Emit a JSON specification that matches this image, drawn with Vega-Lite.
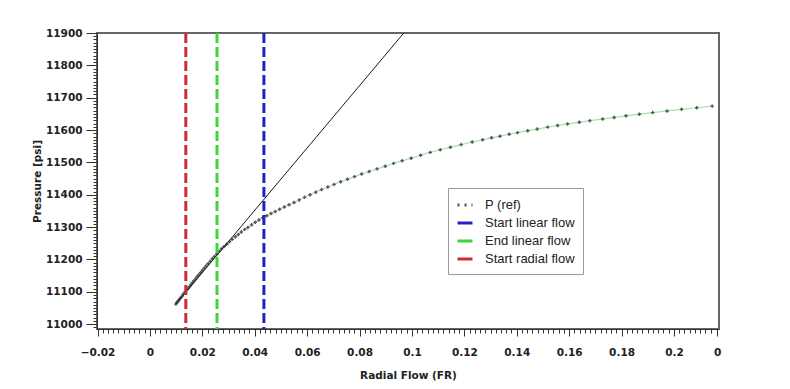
{
  "$schema": "https://vega.github.io/schema/vega-lite/v6.json",
  "width": 622,
  "height": 296,
  "autosize": {"type": "none"},
  "padding": {"left": 97, "top": 33, "right": 71, "bottom": 60},
  "background": "white",
  "config": {
    "view": {"stroke": "#666666", "strokeWidth": 2},
    "axis": {"grid": false, "domainColor": "#333333", "tickColor": "#333333", "labelColor": "#222222", "titleColor": "#222222", "labelFont": "DejaVu Sans", "titleFont": "DejaVu Sans", "labelFontWeight": "bold", "titleFontWeight": "bold", "labelFontSize": 10.5, "titleFontSize": 10.5}
  },
  "datasets": {
    "pref": [
      {"flow": 0.0099, "pressure": 11062, "series": "P (ref)"},
      {"flow": 0.0103, "pressure": 11067, "series": "P (ref)"},
      {"flow": 0.0106, "pressure": 11070, "series": "P (ref)"},
      {"flow": 0.0110, "pressure": 11074, "series": "P (ref)"},
      {"flow": 0.0114, "pressure": 11079, "series": "P (ref)"},
      {"flow": 0.0118, "pressure": 11082, "series": "P (ref)"},
      {"flow": 0.0122, "pressure": 11086, "series": "P (ref)"},
      {"flow": 0.0127, "pressure": 11092, "series": "P (ref)"},
      {"flow": 0.0131, "pressure": 11096, "series": "P (ref)"},
      {"flow": 0.0136, "pressure": 11101, "series": "P (ref)"},
      {"flow": 0.0141, "pressure": 11107, "series": "P (ref)"},
      {"flow": 0.0146, "pressure": 11111, "series": "P (ref)"},
      {"flow": 0.0151, "pressure": 11116, "series": "P (ref)"},
      {"flow": 0.0156, "pressure": 11122, "series": "P (ref)"},
      {"flow": 0.0162, "pressure": 11128, "series": "P (ref)"},
      {"flow": 0.0168, "pressure": 11134, "series": "P (ref)"},
      {"flow": 0.0174, "pressure": 11140, "series": "P (ref)"},
      {"flow": 0.0180, "pressure": 11147, "series": "P (ref)"},
      {"flow": 0.0186, "pressure": 11152, "series": "P (ref)"},
      {"flow": 0.0193, "pressure": 11159, "series": "P (ref)"},
      {"flow": 0.0200, "pressure": 11166, "series": "P (ref)"},
      {"flow": 0.0207, "pressure": 11173, "series": "P (ref)"},
      {"flow": 0.0214, "pressure": 11180, "series": "P (ref)"},
      {"flow": 0.0222, "pressure": 11187, "series": "P (ref)"},
      {"flow": 0.0230, "pressure": 11194, "series": "P (ref)"},
      {"flow": 0.0238, "pressure": 11202, "series": "P (ref)"},
      {"flow": 0.0246, "pressure": 11209, "series": "P (ref)"},
      {"flow": 0.0255, "pressure": 11217, "series": "P (ref)"},
      {"flow": 0.0264, "pressure": 11225, "series": "P (ref)"},
      {"flow": 0.0273, "pressure": 11233, "series": "P (ref)"},
      {"flow": 0.0283, "pressure": 11240, "series": "P (ref)"},
      {"flow": 0.0293, "pressure": 11247, "series": "P (ref)"},
      {"flow": 0.0304, "pressure": 11255, "series": "P (ref)"},
      {"flow": 0.0314, "pressure": 11262, "series": "P (ref)"},
      {"flow": 0.0326, "pressure": 11270, "series": "P (ref)"},
      {"flow": 0.0337, "pressure": 11277, "series": "P (ref)"},
      {"flow": 0.0349, "pressure": 11285, "series": "P (ref)"},
      {"flow": 0.0362, "pressure": 11293, "series": "P (ref)"},
      {"flow": 0.0374, "pressure": 11299, "series": "P (ref)"},
      {"flow": 0.0388, "pressure": 11307, "series": "P (ref)"},
      {"flow": 0.0402, "pressure": 11315, "series": "P (ref)"},
      {"flow": 0.0416, "pressure": 11322, "series": "P (ref)"},
      {"flow": 0.0431, "pressure": 11329, "series": "P (ref)"},
      {"flow": 0.0446, "pressure": 11335, "series": "P (ref)"},
      {"flow": 0.0462, "pressure": 11342, "series": "P (ref)"},
      {"flow": 0.0478, "pressure": 11348, "series": "P (ref)"},
      {"flow": 0.0495, "pressure": 11355, "series": "P (ref)"},
      {"flow": 0.0513, "pressure": 11362, "series": "P (ref)"},
      {"flow": 0.0531, "pressure": 11369, "series": "P (ref)"},
      {"flow": 0.0550, "pressure": 11376, "series": "P (ref)"},
      {"flow": 0.0570, "pressure": 11384, "series": "P (ref)"},
      {"flow": 0.0590, "pressure": 11392, "series": "P (ref)"},
      {"flow": 0.0611, "pressure": 11400, "series": "P (ref)"},
      {"flow": 0.0633, "pressure": 11408, "series": "P (ref)"},
      {"flow": 0.0655, "pressure": 11416, "series": "P (ref)"},
      {"flow": 0.0679, "pressure": 11424, "series": "P (ref)"},
      {"flow": 0.0703, "pressure": 11432, "series": "P (ref)"},
      {"flow": 0.0728, "pressure": 11440, "series": "P (ref)"},
      {"flow": 0.0754, "pressure": 11448, "series": "P (ref)"},
      {"flow": 0.0781, "pressure": 11456, "series": "P (ref)"},
      {"flow": 0.0808, "pressure": 11464, "series": "P (ref)"},
      {"flow": 0.0837, "pressure": 11472, "series": "P (ref)"},
      {"flow": 0.0867, "pressure": 11480, "series": "P (ref)"},
      {"flow": 0.0898, "pressure": 11488, "series": "P (ref)"},
      {"flow": 0.0930, "pressure": 11497, "series": "P (ref)"},
      {"flow": 0.0963, "pressure": 11505, "series": "P (ref)"},
      {"flow": 0.0997, "pressure": 11513, "series": "P (ref)"},
      {"flow": 0.1033, "pressure": 11522, "series": "P (ref)"},
      {"flow": 0.1070, "pressure": 11531, "series": "P (ref)"},
      {"flow": 0.1108, "pressure": 11539, "series": "P (ref)"},
      {"flow": 0.1147, "pressure": 11547, "series": "P (ref)"},
      {"flow": 0.1188, "pressure": 11555, "series": "P (ref)"},
      {"flow": 0.1230, "pressure": 11563, "series": "P (ref)"},
      {"flow": 0.1270, "pressure": 11570, "series": "P (ref)"},
      {"flow": 0.1304, "pressure": 11576, "series": "P (ref)"},
      {"flow": 0.1336, "pressure": 11581, "series": "P (ref)"},
      {"flow": 0.1371, "pressure": 11587, "series": "P (ref)"},
      {"flow": 0.1403, "pressure": 11592, "series": "P (ref)"},
      {"flow": 0.1442, "pressure": 11598, "series": "P (ref)"},
      {"flow": 0.1478, "pressure": 11603, "series": "P (ref)"},
      {"flow": 0.1518, "pressure": 11609, "series": "P (ref)"},
      {"flow": 0.1556, "pressure": 11614, "series": "P (ref)"},
      {"flow": 0.1594, "pressure": 11619, "series": "P (ref)"},
      {"flow": 0.1639, "pressure": 11624, "series": "P (ref)"},
      {"flow": 0.1679, "pressure": 11629, "series": "P (ref)"},
      {"flow": 0.1728, "pressure": 11634, "series": "P (ref)"},
      {"flow": 0.1772, "pressure": 11639, "series": "P (ref)"},
      {"flow": 0.1817, "pressure": 11644, "series": "P (ref)"},
      {"flow": 0.1868, "pressure": 11649, "series": "P (ref)"},
      {"flow": 0.1919, "pressure": 11654, "series": "P (ref)"},
      {"flow": 0.1974, "pressure": 11659, "series": "P (ref)"},
      {"flow": 0.2029, "pressure": 11664, "series": "P (ref)"},
      {"flow": 0.2087, "pressure": 11669, "series": "P (ref)"},
      {"flow": 0.2146, "pressure": 11674, "series": "P (ref)"}
    ],
    "tangent": [
      {"flow": 0.0099, "pressure": 11062},
      {"flow": 0.0969, "pressure": 11900}
    ],
    "markers": [
      {"flow": 0.0435, "series": "Start linear flow"},
      {"flow": 0.0256, "series": "End linear flow"},
      {"flow": 0.0137, "series": "Start radial flow"}
    ]
  },
  "layer": [
    {
      "data": {"name": "pref"},
      "mark": {"type": "line", "color": "#8fdc8f", "strokeWidth": 1.2, "opacity": 0.8},
      "encoding": {
        "x": {
          "field": "flow", "type": "quantitative", "title": "Radial Flow (FR)",
          "scale": {"domain": [-0.0202, 0.2172], "nice": false, "zero": false},
          "axis": {
            "values": [-0.02,-0.018,-0.016,-0.014,-0.012,-0.01,-0.008,-0.006,-0.004,-0.002,0,0.002,0.004,0.006,0.008,0.01,0.012,0.014,0.016,0.018,0.02,0.022,0.024,0.026,0.028,0.03,0.032,0.034,0.036,0.038,0.04,0.042,0.044,0.046,0.048,0.05,0.052,0.054,0.056,0.058,0.06,0.062,0.064,0.066,0.068,0.07,0.072,0.074,0.076,0.078,0.08,0.082,0.084,0.086,0.088,0.09,0.092,0.094,0.096,0.098,0.1,0.102,0.104,0.106,0.108,0.11,0.112,0.114,0.116,0.118,0.12,0.122,0.124,0.126,0.128,0.13,0.132,0.134,0.136,0.138,0.14,0.142,0.144,0.146,0.148,0.15,0.152,0.154,0.156,0.158,0.16,0.162,0.164,0.166,0.168,0.17,0.172,0.174,0.176,0.178,0.18,0.182,0.184,0.186,0.188,0.19,0.192,0.194,0.196,0.198,0.2,0.202,0.204,0.206,0.208,0.21,0.212,0.214,0.2165],
            "tickCount": 1000,
            "labelExpr": "datum.value > 0.216 ? '0' : (abs(datum.value * 50 - round(datum.value * 50)) < 1e-6 ? format(datum.value, '~g') : '')",
            "tickSize": {"condition": {"test": "datum.value > 0.216 || abs(datum.value * 50 - round(datum.value * 50)) < 1e-6", "value": 7}, "value": 4},
            "labelOverlap": false,
            "labelFlush": false,
            "labelPadding": 11,
            "titlePadding": 13
          }
        },
        "y": {
          "field": "pressure", "type": "quantitative", "title": "Pressure [psi]",
          "scale": {"domain": [10985, 11900], "nice": false, "zero": false},
          "axis": {
            "values": [10990,11000,11010,11020,11030,11040,11050,11060,11070,11080,11090,11100,11110,11120,11130,11140,11150,11160,11170,11180,11190,11200,11210,11220,11230,11240,11250,11260,11270,11280,11290,11300,11310,11320,11330,11340,11350,11360,11370,11380,11390,11400,11410,11420,11430,11440,11450,11460,11470,11480,11490,11500,11510,11520,11530,11540,11550,11560,11570,11580,11590,11600,11610,11620,11630,11640,11650,11660,11670,11680,11690,11700,11710,11720,11730,11740,11750,11760,11770,11780,11790,11800,11810,11820,11830,11840,11850,11860,11870,11880,11890,11900],
            "tickCount": 1000,
            "labelExpr": "datum.value % 100 === 0 ? format(datum.value, 'd') : ''",
            "tickSize": {"condition": {"test": "datum.value % 100 === 0", "value": 11}, "value": 4},
            "labelOverlap": false,
            "labelFlush": false,
            "labelPadding": 4,
            "titlePadding": 3
          }
        }
      }
    },
    {
      "data": {"name": "pref"},
      "mark": {"type": "point", "shape": "cross", "filled": true, "size": 12, "opacity": 1},
      "encoding": {
        "x": {"field": "flow", "type": "quantitative", "title": "Radial Flow (FR)"},
        "y": {"field": "pressure", "type": "quantitative", "title": "Pressure [psi]"},
        "color": {"field": "series", "type": "nominal", "title": null}
      }
    },
    {
      "data": {"name": "tangent"},
      "mark": {"type": "line", "color": "#1a1a1a", "strokeWidth": 1},
      "encoding": {
        "x": {"field": "flow", "type": "quantitative", "title": "Radial Flow (FR)"},
        "y": {"field": "pressure", "type": "quantitative", "title": "Pressure [psi]"}
      }
    },
    {
      "data": {"name": "markers"},
      "mark": {"type": "rule", "strokeWidth": 3, "strokeDash": [10, 4]},
      "encoding": {
        "x": {"field": "flow", "type": "quantitative", "title": "Radial Flow (FR)"},
        "color": {
          "field": "series", "type": "nominal", "title": null,
          "scale": {"domain": ["P (ref)", "Start linear flow", "End linear flow", "Start radial flow"], "range": ["#555555", "#2222c0", "#3ad83a", "#d02a36"]},
          "legend": {
            "title": null,
            "orient": "none",
            "legendX": 351,
            "legendY": 155,
            "symbolType": "stroke",
            "symbolSize": 225,
            "symbolStrokeWidth": 3,
            "labelFont": "Liberation Sans",
            "labelFontSize": 13,
            "labelColor": "#222222",
            "labelOffset": 11,
            "strokeColor": "#999999",
            "fillColor": "white",
            "padding": 8,
            "rowPadding": 2,
            "encode": {
              "symbols": {
                "update": {
                  "stroke": {"scale": "color", "field": "value"},
                  "fill": {"value": "transparent"},
                  "strokeDash": {"signal": "datum.label === 'P (ref)' ? [2, 5] : [20, 0]"}
                }
              }
            }
          }
        }
      }
    }
  ]
}
